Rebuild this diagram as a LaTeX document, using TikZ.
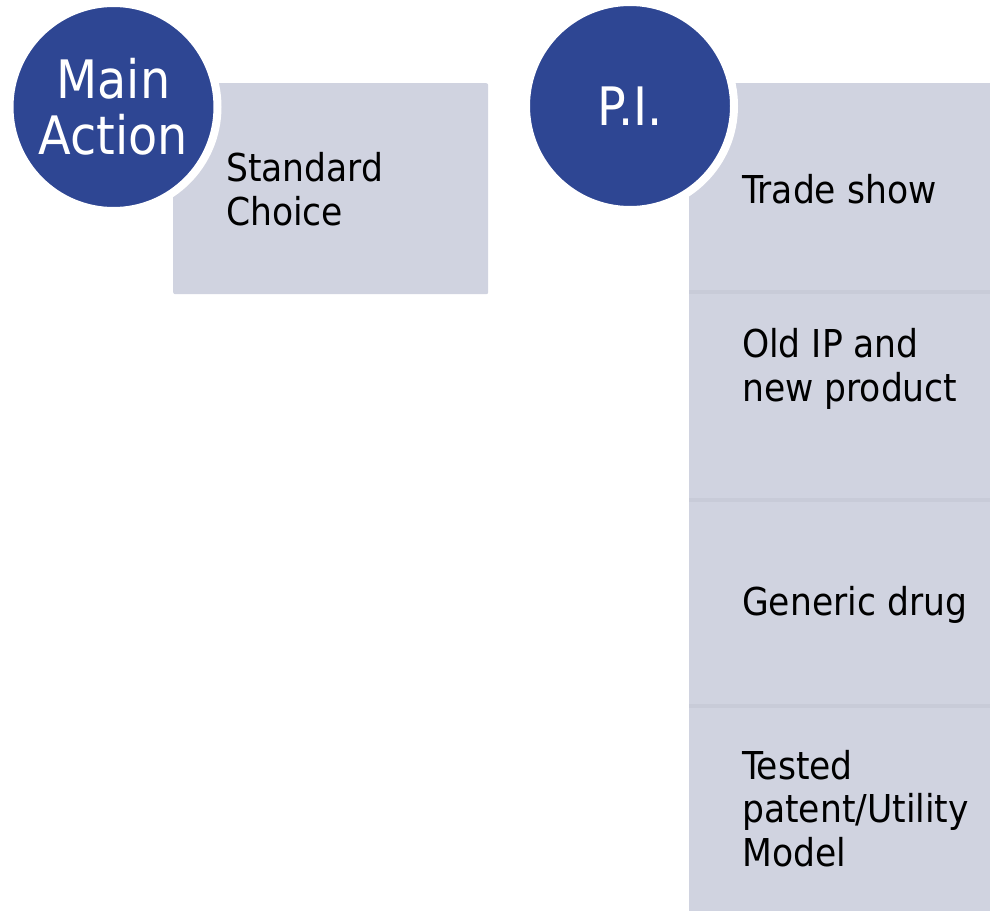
\documentclass[tikz,border=0pt]{standalone}
\usepackage{fontspec}
\setmainfont{DejaVu Sans Condensed}

\definecolor{discblue}{HTML}{2E4693}
\definecolor{panelgray}{HTML}{D0D3E0}
\definecolor{rulegray}{HTML}{C8CBD8}

\tikzset{
  disc/.style={circle,fill=discblue,draw=white,line width=8pt,minimum size=208pt,
    inner sep=0pt,text=white,align=center,font=\fontsize{53}{56}\selectfont},
  panel/.style={rectangle,fill=panelgray,rounded corners=2pt,inner sep=0pt,anchor=north west},
  paneltext/.style={anchor=base west,align=left,inner sep=0pt,font=\fontsize{38.4}{43.5}\selectfont},
  seprule/.style={draw=rulegray,line width=4pt},
}

\begin{document}
\begin{tikzpicture}[x=1pt,y=-1pt]
\useasboundingbox (0,0) rectangle (990,910);
\clip (0,0) rectangle (990,910);

% left group (text placed by its last baseline)
\node[panel,minimum width=315pt,minimum height=211pt] (std) at (173,83) {};
\node[paneltext] (stdtxt) at (226,225) {Standard\\Choice};
\node[disc] (main) at (113.5,107) {Main\\Action};

% right column
\node[panel,minimum width=330pt,minimum height=209pt] (pi1) at (689,83) {};
\node[panel,minimum width=330pt,minimum height=208pt] (pi2) at (689,292) {};
\node[panel,minimum width=330pt,minimum height=206pt] (pi3) at (689,500) {};
\node[panel,minimum width=330pt,minimum height=210pt] (pi4) at (689,706) {};
\draw[seprule] (pi1.south west) -- (pi1.south east);
\draw[seprule] (pi2.south west) -- (pi2.south east);
\draw[seprule] (pi3.south west) -- (pi3.south east);

\node[paneltext] (t1) at (742,203) {Trade show};
\node[paneltext] (t2) at (742,401) {Old IP and\\new product};
\node[paneltext] (t3) at (742,615) {Generic drug};
\node[paneltext] (t4) at (742,866) {Tested\\patent/Utility\\Model};

\node[disc] (pi) at (630,106) {P.I.};
\end{tikzpicture}
\end{document}
